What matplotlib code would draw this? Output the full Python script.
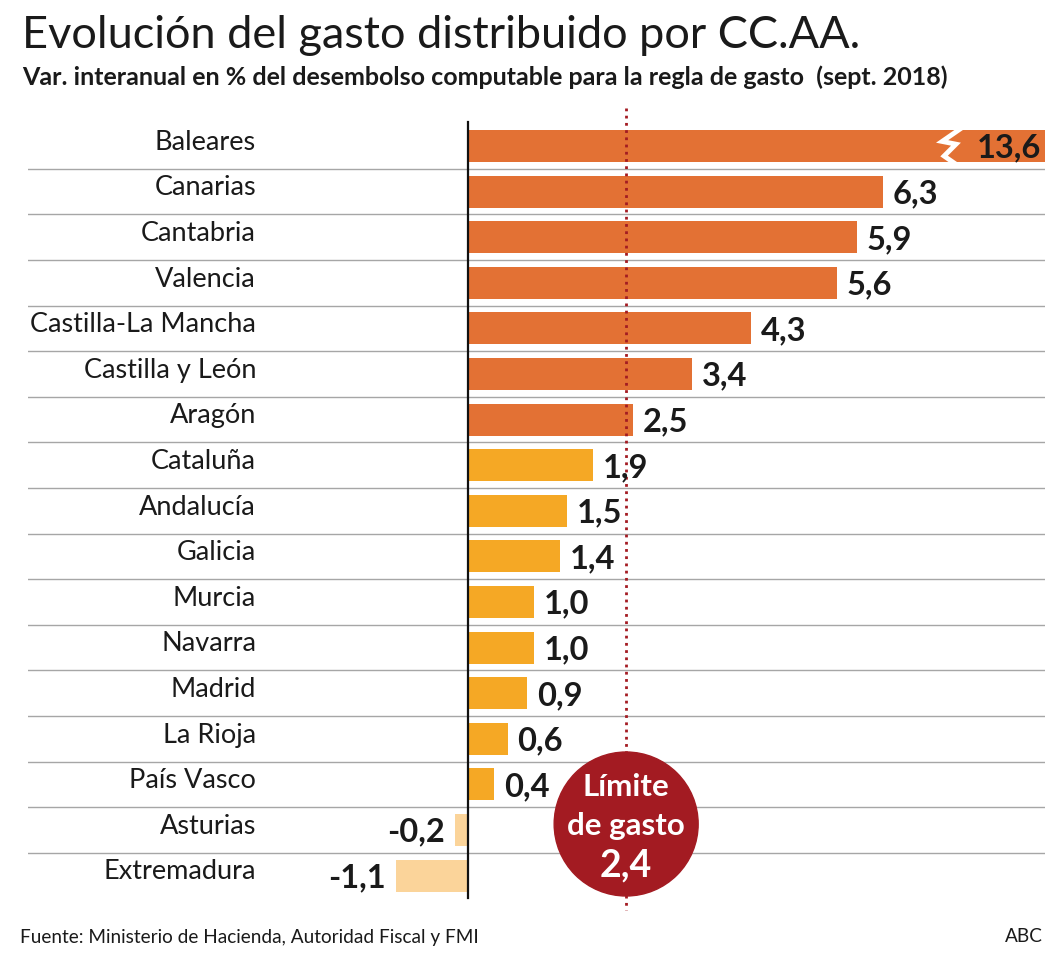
import matplotlib

matplotlib.use("Agg")
import matplotlib.pyplot as plt
from matplotlib.patches import Ellipse

plt.rcParams["font.family"] = ["Lato", "DejaVu Sans"]

REGIONS = [
    "Baleares", "Canarias", "Cantabria", "Valencia", "Castilla-La Mancha",
    "Castilla y León", "Aragón", "Cataluña", "Andalucía", "Galicia", "Murcia",
    "Navarra", "Madrid", "La Rioja", "País Vasco", "Asturias", "Extremadura",
]
VALUES = [13.6, 6.3, 5.9, 5.6, 4.3, 3.4, 2.5, 1.9, 1.5, 1.4, 1.0, 1.0, 0.9, 0.6, 0.4, -0.2, -1.1]
LIMIT = 2.4

ORANGE = "#e37134"
YELLOW = "#f5a825"
PEACH = "#fbd49a"
RED = "#a31b22"

W, H = 1063, 959
PX_X = 65.9  # pixels per unit
PX_Y = 45.6  # pixels per row
X0_PX, Y0_PX = 468, 146
LEFT_PX, RIGHT_PX, TOP_PX, BOT_PX = 28, 1045, 100, 915

fig = plt.figure(figsize=(W / 100, H / 100), dpi=100)
ax = fig.add_axes([LEFT_PX / W, 1 - BOT_PX / H, (RIGHT_PX - LEFT_PX) / W, (BOT_PX - TOP_PX) / H])
ax.set_xlim((LEFT_PX - X0_PX) / PX_X, (RIGHT_PX - X0_PX) / PX_X)
ax.set_ylim((BOT_PX - Y0_PX) / PX_Y, (TOP_PX - Y0_PX) / PX_Y)
ax.axis("off")


def bar_color(v):
    if v < 0:
        return PEACH
    if v > LIMIT:
        return ORANGE
    return YELLOW


ys = list(range(len(REGIONS)))
xmax = ax.get_xlim()[1]
ax.barh(ys, VALUES, height=0.7, color=[bar_color(v) for v in VALUES], zorder=2)

# separators between rows
for i in range(len(REGIONS) - 1):
    ax.plot([ax.get_xlim()[0], xmax], [i + 0.5, i + 0.5], color="#a6a6a6", lw=1, zorder=1)

label_x = (256 - X0_PX) / PX_X
for y, name, v in zip(ys, REGIONS, VALUES):
    ax.text(label_x, y - 0.08, name, ha="right", va="center", fontsize=19.5, color="#1a1a1a")
    txt = f"{v:.1f}".replace(".", ",")
    if v > xmax:
        ax.text(xmax - 0.06, y + 0.05, txt, ha="right", va="center", fontsize=23.5,
                fontweight="bold", color="#1a1a1a", zorder=4)
    elif v < 0:
        ax.text(v - 0.15, y + 0.05, txt, ha="right", va="center", fontsize=23.5,
                fontweight="bold", color="#1a1a1a", zorder=4)
    else:
        ax.text(v + 0.15, y + 0.05, txt, ha="left", va="center", fontsize=23.5,
                fontweight="bold", color="#1a1a1a", zorder=4)

# break mark on the clipped bar
bx = (952 - X0_PX) / PX_X
ax.plot([bx + 0.15, bx - 0.15, bx + 0.06, bx - 0.12, bx + 0.06],
        [-0.4, -0.1, -0.04, 0.22, 0.4], color="white", lw=3.5, zorder=3, solid_joinstyle="miter")

# zero axis
ax.plot([0, 0], [(122 - Y0_PX) / PX_Y, (898 - Y0_PX) / PX_Y], color="#111111", lw=1.6, zorder=3)

# spending limit
ax.plot([LIMIT, LIMIT], [(108 - Y0_PX) / PX_Y, (910 - Y0_PX) / PX_Y], color=RED, lw=2,
        linestyle=(0, (1, 1.6)), zorder=3)
cy = (824 - Y0_PX) / PX_Y
r_px = 72
ax.add_patch(Ellipse((LIMIT, cy), 2 * r_px / PX_X, 2 * r_px / PX_Y, color=RED, zorder=5))
ax.text(LIMIT, cy - 0.82, "Límite", ha="center", va="center", fontsize=22.5,
        fontweight="bold", color="white", zorder=6)
ax.text(LIMIT, cy + 0.05, "de gasto", ha="center", va="center", fontsize=22.5,
        fontweight="bold", color="white", zorder=6)
ax.text(LIMIT, cy + 0.92, f"{LIMIT:.1f}".replace(".", ","), ha="center", va="center",
        fontsize=27, fontweight="bold", color="white", zorder=6)

fig.text(22 / W, 1 - 36 / H, "Evolución del gasto distribuido por CC.AA.", fontsize=32.5,
         ha="left", va="center", color="#1a1a1a")
fig.text(22 / W, 1 - 77 / H,
         "Var. interanual en % del desembolso computable para la regla de gasto  (sept. 2018)",
         fontsize=18, fontweight="bold", ha="left", va="center", color="#1a1a1a")
fig.text(20 / W, 1 - 937 / H, "Fuente: Ministerio de Hacienda, Autoridad Fiscal y FMI",
         fontsize=13.7, ha="left", va="center", color="#1a1a1a")
fig.text(1043 / W, 1 - 937 / H, "ABC", fontsize=13.7, ha="right", va="center", color="#1a1a1a")

fig.savefig("out.png", dpi=100)
